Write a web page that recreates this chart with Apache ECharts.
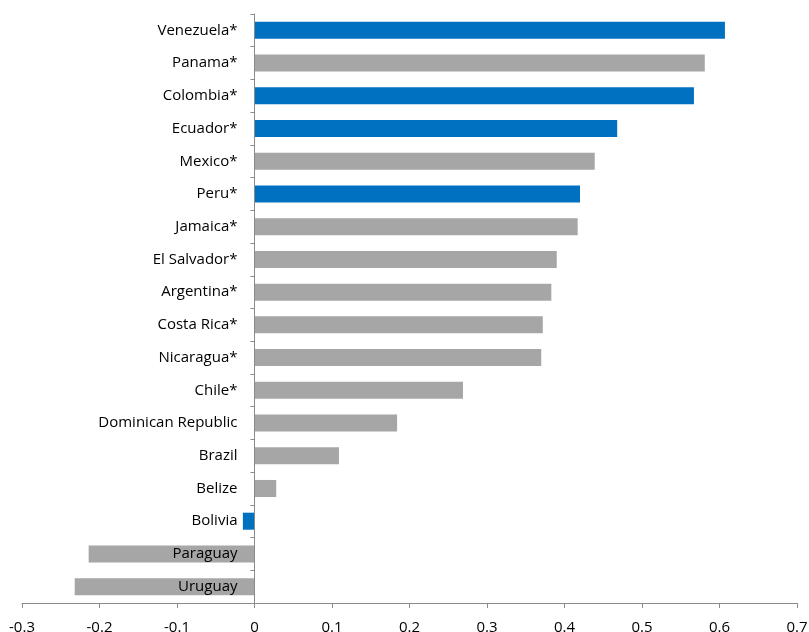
<!DOCTYPE html>
<html>
<head>
<meta charset="utf-8">
<script src="https://cdn.jsdelivr.net/npm/echarts@6/dist/echarts.min.js"></script>
<style>
  html, body { margin: 0; padding: 0; background: #fff; }
  #chart { width: 809px; height: 632px; }
</style>
</head>
<body>
<div id="chart"></div>
<script>
// Countries listed bottom to top (category axis runs upward)
const countries = [
  'Uruguay', 'Paraguay', 'Bolivia', 'Belize', 'Brazil', 'Dominican Republic',
  'Chile*', 'Nicaragua*', 'Costa Rica*', 'Argentina*', 'El Salvador*', 'Jamaica*',
  'Peru*', 'Mexico*', 'Ecuador*', 'Colombia*', 'Panama*', 'Venezuela*'
];
const values = [
  -0.232, -0.214, -0.015, 0.028, 0.109, 0.184,
  0.269, 0.370, 0.372, 0.383, 0.390, 0.417,
  0.420, 0.439, 0.468, 0.567, 0.581, 0.607
];
// Countries drawn in the highlight colour
const highlighted = ['Venezuela*', 'Colombia*', 'Ecuador*', 'Peru*', 'Bolivia'];
const xTicks = { min: -0.3, max: 0.7, interval: 0.1 };

const BLUE = '#0070C0';
const GRAY = '#A6A6A6';
const AXIS = '#8A8A8A';
const FONT = 'Open Sans';
const GRID_LEFT = 22;

const chart = echarts.init(document.getElementById('chart'), null, { renderer: 'canvas' });
const option = {
  animation: false,
  grid: { left: GRID_LEFT, right: 12, top: 14, bottom: 29, containLabel: false, outerBoundsMode: 'none' },
  xAxis: {
    type: 'value',
    min: xTicks.min, max: xTicks.max, interval: xTicks.interval,
    axisLine: { show: true, onZero: false, lineStyle: { color: AXIS, width: 1 } },
    axisTick: { show: true, length: 5, lineStyle: { color: AXIS } },
    splitLine: { show: false },
    axisLabel: {
      margin: 17, color: '#000', fontFamily: FONT, fontSize: 15,
      formatter: v => String(Math.round(v * 10) / 10)
    }
  },
  yAxis: {
    type: 'category',
    data: countries,
    z: 10,
    offset: 0,
    axisLine: { show: true, onZero: false, lineStyle: { color: AXIS, width: 1 } },
    axisTick: { show: true, length: 4, lineStyle: { color: AXIS } },
    axisLabel: { margin: 17, color: '#000', fontFamily: FONT, fontSize: 15 }
  },
  series: [{
    type: 'bar',
    data: values.map((v, i) => ({
      value: v,
      itemStyle: { color: highlighted.includes(countries[i]) ? BLUE : GRAY }
    })),
    barCategoryGap: '48%'
  }]
};
chart.setOption(option);

// Move the category axis (line, ticks and labels) onto the zero of the value scale
const zeroX = chart.convertToPixel({ xAxisIndex: 0 }, 0);
chart.setOption({ yAxis: { offset: -(zeroX - GRID_LEFT) } });
</script>
</body>
</html>
